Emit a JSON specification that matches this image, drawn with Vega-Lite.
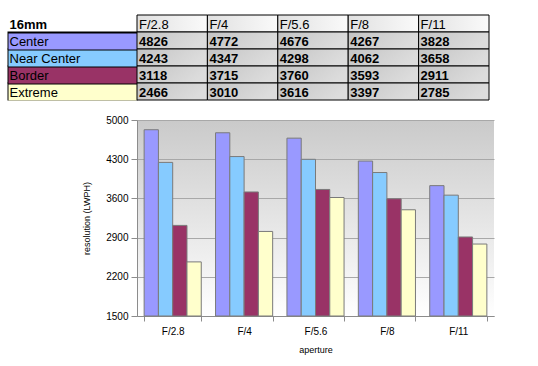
{
  "$schema": "https://vega.github.io/schema/vega-lite/v6.json",
  "padding": {"left": -2, "top": 14, "right": 5, "bottom": 5},
  "background": "white",
  "config": {"font": "Liberation Sans", "view": {"stroke": null}},
  "data": {"values": [
    {"series": "Center", "aperture": "F/2.8", "value": 4826},
    {"series": "Center", "aperture": "F/4", "value": 4772},
    {"series": "Center", "aperture": "F/5.6", "value": 4676},
    {"series": "Center", "aperture": "F/8", "value": 4267},
    {"series": "Center", "aperture": "F/11", "value": 3828},
    {"series": "Near Center", "aperture": "F/2.8", "value": 4243},
    {"series": "Near Center", "aperture": "F/4", "value": 4347},
    {"series": "Near Center", "aperture": "F/5.6", "value": 4298},
    {"series": "Near Center", "aperture": "F/8", "value": 4062},
    {"series": "Near Center", "aperture": "F/11", "value": 3658},
    {"series": "Border", "aperture": "F/2.8", "value": 3118},
    {"series": "Border", "aperture": "F/4", "value": 3715},
    {"series": "Border", "aperture": "F/5.6", "value": 3760},
    {"series": "Border", "aperture": "F/8", "value": 3593},
    {"series": "Border", "aperture": "F/11", "value": 2911},
    {"series": "Extreme", "aperture": "F/2.8", "value": 2466},
    {"series": "Extreme", "aperture": "F/4", "value": 3010},
    {"series": "Extreme", "aperture": "F/5.6", "value": 3616},
    {"series": "Extreme", "aperture": "F/8", "value": 3397},
    {"series": "Extreme", "aperture": "F/11", "value": 2785}
  ]},
  "spacing": 14,
  "vconcat": [
    {
      "width": 352,
      "height": 85,
      "resolve": {"scale": {"y": "independent"}, "axis": {"y": "independent"}},
      "layer": [
        {
          "layer": [
            {
              "transform": [{"filter": "datum.series === 'Center'"}],
              "mark": {"type": "rect", "stroke": "black", "strokeWidth": 1,
                "fill": {"gradient": "linear", "x1": 0, "y1": 0, "x2": 1, "y2": 0,
                  "stops": [{"offset": 0, "color": "#e0e0e0"}, {"offset": 1, "color": "#fafafa"}]}},
              "encoding": {
                "x": {"field": "aperture", "type": "nominal",
                  "scale": {"domain": ["F/2.8", "F/4", "F/5.6", "F/8", "F/11"], "paddingInner": 0, "paddingOuter": 0},
                  "axis": null},
                "y": {"datum": "16mm", "type": "nominal",
                  "scale": {"domain": ["16mm", "Center", "Near Center", "Border", "Extreme"], "paddingInner": 0, "paddingOuter": 0},
                  "axis": {"title": null, "orient": "left", "labels": false, "domain": false, "grid": false,
                    "ticks": true, "tickSize": 130, "tickWidth": 18, "zindex": 0,
                    "tickColor": {"condition": {"test": "datum.value === '16mm'", "value": "transparent"}, "value": "black"}}}
              }
            },
            {
              "mark": {"type": "rect", "stroke": "black", "strokeWidth": 1,
                "fill": {"gradient": "linear", "x1": 0, "y1": 0, "x2": 1, "y2": 0.3,
                  "stops": [{"offset": 0, "color": "#c4c4c4"}, {"offset": 1, "color": "#dcdcdc"}]}},
              "encoding": {
                "x": {"field": "aperture", "type": "nominal"},
                "y": {"field": "series", "type": "nominal"}
              }
            },
            {
              "transform": [{"filter": "datum.series === 'Center'"}],
              "mark": {"type": "text", "align": "left", "baseline": "middle", "dx": 2, "dy": 1, "fontSize": 13, "color": "black"},
              "encoding": {
                "x": {"field": "aperture", "type": "nominal", "bandPosition": 0},
                "y": {"datum": "16mm", "type": "nominal"},
                "text": {"field": "aperture"}
              }
            }
          ]
        },
        {
          "mark": {"type": "text", "align": "left", "baseline": "middle", "dx": 2, "dy": 1, "fontSize": 13, "fontWeight": "bold", "color": "black"},
          "encoding": {
            "x": {"field": "aperture", "type": "nominal", "bandPosition": 0},
            "y": {"field": "series", "type": "nominal",
              "scale": {"domain": ["16mm", "Center", "Near Center", "Border", "Extreme"], "paddingInner": 0, "paddingOuter": 0},
              "axis": {"title": null, "orient": "left", "domain": false, "grid": false, "offset": 1,
                "ticks": true, "tickSize": 128, "tickWidth": 16, "zindex": 1,
                "tickColor": {"condition": [
                  {"test": "datum.value === 'Center'", "value": "#9999ff"},
                  {"test": "datum.value === 'Near Center'", "value": "#86cbff"},
                  {"test": "datum.value === 'Border'", "value": "#993366"},
                  {"test": "datum.value === 'Extreme'", "value": "#ffffcc"}], "value": "transparent"},
                "labels": true, "labelAlign": "left", "labelPadding": -1, "labelFontSize": 13, "labelColor": "black",
                "labelFont": "Liberation Sans", "labelBaseline": "middle", "labelOffset": 1,
                "labelFontWeight": {"condition": {"test": "datum.value === '16mm'", "value": "bold"}, "value": "normal"}}},
            "text": {"field": "value"}
          }
        }
      ]
    },
    {
      "width": 357,
      "height": 196,
      "view": {"stroke": null,
        "fill": {"gradient": "linear", "x1": 0, "y1": 0, "x2": 0, "y2": 1,
          "stops": [{"offset": 0, "color": "#cacaca"}, {"offset": 1, "color": "#ffffff"}]}},
      "mark": {"type": "bar", "stroke": "#7a7a7a", "strokeWidth": 1},
      "encoding": {
        "x": {"field": "aperture", "type": "nominal",
          "scale": {"domain": ["F/2.8", "F/4", "F/5.6", "F/8", "F/11"], "paddingInner": 0.2, "paddingOuter": 0.1},
          "axis": {"title": "aperture", "labelAngle": 0, "tickBand": "extent", "domainColor": "#8c8c8c",
            "tickColor": "#8c8c8c", "tickSize": 5, "labelFontSize": 10, "labelPadding": 5, "labelColor": "black",
            "titleFontSize": 9, "titleFontWeight": "normal", "titlePadding": 9, "titleColor": "black", "grid": false}},
        "xOffset": {"field": "series", "type": "nominal",
          "scale": {"domain": ["Center", "Near Center", "Border", "Extreme"], "paddingInner": 0}},
        "y": {"field": "value", "type": "quantitative",
          "scale": {"domain": [1500, 5000], "zero": false, "nice": false},
          "axis": {"title": "resolution (LWPH)", "values": [1500, 2200, 2900, 3600, 4300, 5000], "format": "d",
            "grid": true, "gridColor": "#a8a8a8", "domainColor": "#8c8c8c", "tickColor": "#8c8c8c",
            "tickSize": 6, "labelFontSize": 10, "labelPadding": 3, "labelColor": "black",
            "titleFontSize": 9, "titleFontWeight": "normal", "titleColor": "black", "titlePadding": 14}},
        "y2": {"datum": 1500},
        "color": {"field": "series", "type": "nominal",
          "scale": {"domain": ["Center", "Near Center", "Border", "Extreme"],
            "range": ["#9999ff", "#86cbff", "#993366", "#ffffcc"]},
          "legend": null}
      }
    }
  ]
}
